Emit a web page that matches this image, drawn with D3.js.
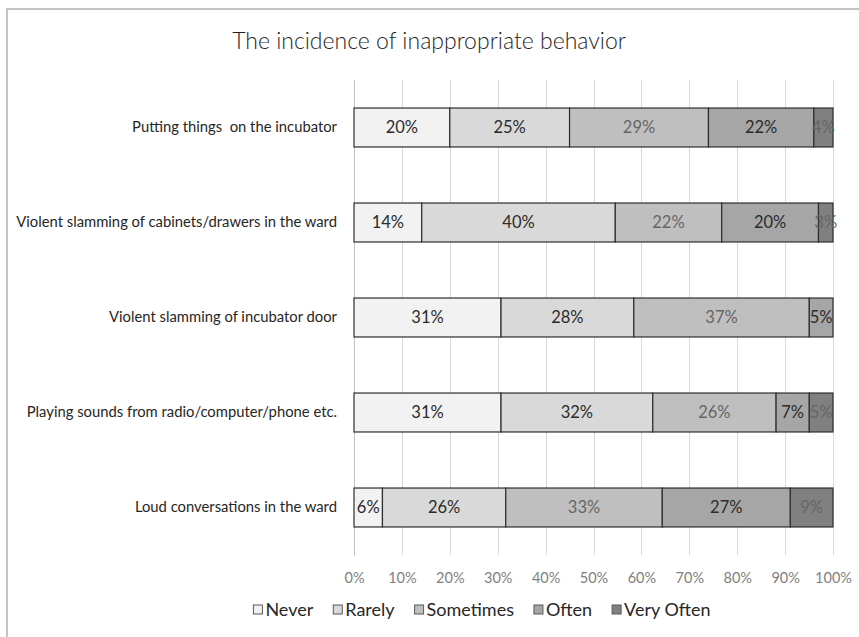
<!DOCTYPE html>
<html>
<head>
<meta charset="utf-8">
<script src="https://cdn.jsdelivr.net/npm/d3@7"></script>
<style>
  html, body { margin: 0; padding: 0; background: #fff; }
  svg { display: block; }
  text { font-family: Lato, "Liberation Sans", sans-serif; }
</style>
</head>
<body>
<svg id="chart" width="859" height="637"></svg>
<script>
// Survey answers, percent of respondents per behaviour
const categories = [
  "Putting things  on the incubator",
  "Violent slamming of cabinets/drawers in the ward",
  "Violent slamming of incubator door",
  "Playing sounds from radio/computer/phone etc.",
  "Loud conversations in the ward"
];
const seriesNames = ["Never", "Rarely", "Sometimes", "Often", "Very Often"];
const never      = [20, 14, 31, 31, 6];
const rarely     = [25, 40, 28, 32, 26];
const sometimes  = [29, 22, 37, 26, 33];
const often      = [22, 20, 5, 7, 27];
const veryOften  = [4, 3, 0, 5, 9];
const tickValues = [0, 0.1, 0.2, 0.3, 0.4, 0.5, 0.6, 0.7, 0.8, 0.9, 1.0];

const seriesValues = [never, rarely, sometimes, often, veryOften];
const fills = ["#f2f2f2", "#d9d9d9", "#bfbfbf", "#a6a6a6", "#808080"];
const labelColors = ["#2b2b2b", "#2b2b2b", "#666666", "#2b2b2b", "#666666"];

// rows for the 100% stack
const rows = categories.map((c, i) => {
  const r = { category: c };
  seriesNames.forEach((s, k) => { r[s] = seriesValues[k][i]; });
  return r;
});

const stack = d3.stack().keys(seriesNames).offset(d3.stackOffsetExpand);
const layers = stack(rows);

const svg = d3.select("#chart");

// outer chart frame
svg.append("rect")
  .attr("x", 7).attr("y", 9)
  .attr("width", 900).attr("height", 700)
  .attr("fill", "#fff")
  .attr("stroke", "#c4c4c4").attr("stroke-width", 2);

const plot = { left: 354, right: 833, top: 80, bottom: 555 };

const x = d3.scaleLinear().domain([0, 1]).range([plot.left, plot.right]);
const y = d3.scaleBand().domain(categories)
  .range([plot.top, plot.bottom]).paddingInner(0.59).paddingOuter(0.295);

// title
svg.append("text")
  .attr("x", 429).attr("y", 49)
  .attr("text-anchor", "middle")
  .attr("font-size", 23).attr("font-weight", 300)
  .attr("fill", "#1f1f1f")
  .text("The incidence of inappropriate behavior");

// vertical gridlines
svg.append("g")
  .selectAll("line")
  .data(tickValues)
  .join("line")
  .attr("x1", d => Math.round(x(d)) + 0.5).attr("x2", d => Math.round(x(d)) + 0.5)
  .attr("y1", plot.top).attr("y2", plot.bottom)
  .attr("stroke", "#d9d9d9").attr("stroke-width", 1);

// bottom axis labels
const xAxis = d3.axisBottom(x)
  .tickValues(tickValues)
  .tickFormat(d3.format(".0%"))
  .tickSize(0).tickPadding(0);
const gx = svg.append("g")
  .attr("transform", `translate(0, ${plot.bottom + 17})`)
  .call(xAxis);
gx.select(".domain").remove();
gx.selectAll("text")
  .attr("font-size", 14.5)
  .attr("fill", "#808080")
  .attr("dy", "0.35em")
  .attr("y", 6)
  .style("font-family", "Lato, 'Liberation Sans', sans-serif");

// left axis: category labels
const yAxis = d3.axisLeft(y).tickSize(0).tickPadding(0);
const gy = svg.append("g")
  .attr("transform", `translate(${plot.left}, 0)`)
  .call(yAxis);
gy.select(".domain")
  .attr("stroke", "#bfbfbf");
gy.selectAll("text")
  .attr("x", 337 - plot.left)
  .attr("font-size", 14.8)
  .attr("fill", "#262626")
  .style("white-space", "pre")
  .style("font-family", "Lato, 'Liberation Sans', sans-serif");

// stacked segments
const layerG = svg.append("g")
  .selectAll("g")
  .data(layers)
  .join("g")
  .attr("fill", (d, k) => fills[k]);

layerG.selectAll("rect")
  .data(d => d.filter(p => p[1] - p[0] > 0))
  .join("rect")
  .attr("x", p => x(p[0]))
  .attr("y", p => y(p.data.category))
  .attr("width", p => x(p[1]) - x(p[0]))
  .attr("height", y.bandwidth())
  .attr("stroke", "#2e2e2e").attr("stroke-width", 1.2);

// value labels centred on each segment
layers.forEach((layer, k) => {
  svg.append("g")
    .selectAll("text")
    .data(layer.filter(p => p[1] - p[0] > 0))
    .join("text")
    .attr("x", p => (x(p[0]) + x(p[1])) / 2)
    .attr("y", p => y(p.data.category) + y.bandwidth() / 2)
    .attr("dy", "0.36em")
    .attr("text-anchor", "middle")
    .attr("font-size", 16.5)
    .attr("fill", labelColors[k])
    .text(p => p.data[layer.key] + "%");
});

// legend
const legend = svg.append("g");
const items = legend.selectAll("g")
  .data(seriesNames)
  .join("g");
items.append("rect")
  .attr("width", 9).attr("height", 9)
  .attr("y", -5)
  .attr("fill", (d, k) => fills[k])
  .attr("stroke", "#595959").attr("stroke-width", 1);
items.append("text")
  .attr("x", 12)
  .attr("dy", "0.35em")
  .attr("font-size", 18)
  .attr("fill", "#262626")
  .text(d => d);

const gap = 20;
let cursor = 0;
const positions = [];
items.each(function () {
  positions.push(cursor);
  cursor += 12 + this.querySelector("text").getComputedTextLength() + gap;
});
const total = cursor - gap;
const legendCenter = 482;
items.attr("transform", (d, k) => `translate(${legendCenter - total / 2 + positions[k]}, 610)`);
</script>
</body>
</html>
